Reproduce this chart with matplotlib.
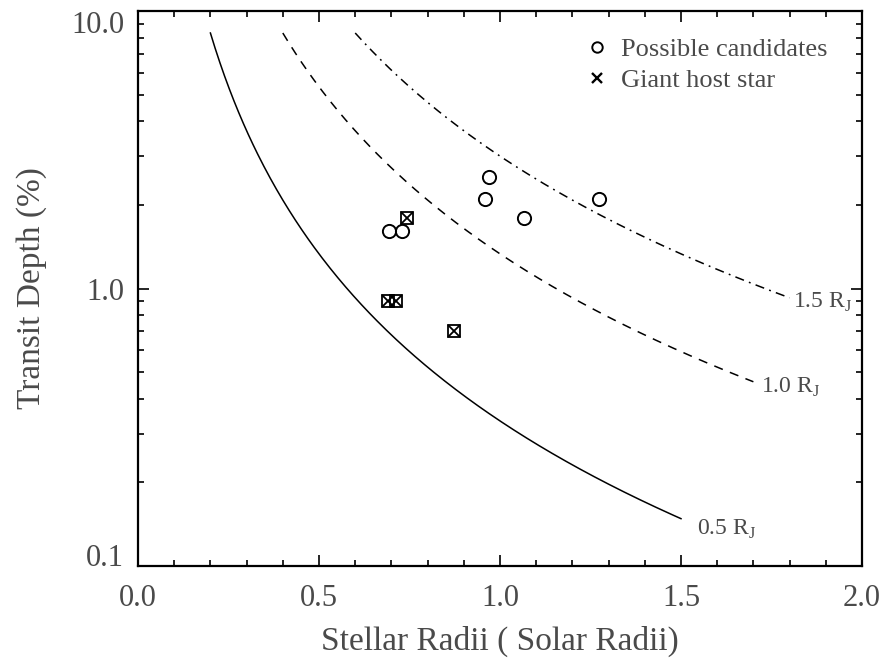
import numpy as np
import matplotlib
matplotlib.use("Agg")
import matplotlib.pyplot as plt
from matplotlib.ticker import FixedLocator, NullFormatter

# transit depth (%) = DEPTH_SCALE * (Rp / R_J)^2 / (R_star / R_sun)^2
DEPTH_SCALE = 1.333
planet_radii = [0.5, 1.0, 1.5]             # in R_J
curve_start = [0.2, 0.4, 0.6]               # stellar radius range of each curve
curve_end = [1.5, 1.7, 1.8]
curve_styles = ['-', (0, (6, 5)), (0, (6, 3.5, 1.2, 3.5))]
curve_labels = ['0.5 R$_\\mathregular{J}$', '1.0 R$_\\mathregular{J}$', '1.5 R$_\\mathregular{J}$']
label_x = [1.545, 1.72, 1.81]
label_y = [0.135, 0.44, 0.89]

# candidates
cand_radius = [0.970, 0.959, 1.067, 1.273, 0.694, 0.728]
cand_depth = [2.52, 2.10, 1.80, 2.10, 1.61, 1.61]

giant_radius = [0.742, 0.691, 0.713, 0.874]
giant_depth = [1.80, 0.904, 0.904, 0.703]

TEXT = '#4a4a4a'
plt.rcParams['font.family'] = ['Liberation Serif', 'DejaVu Serif']
plt.rcParams['mathtext.fontset'] = 'custom'
plt.rcParams['mathtext.rm'] = 'Liberation Serif'

fig = plt.figure(figsize=(8.87, 6.63), dpi=100)
ax = fig.add_axes([0.1556, 0.1463, 0.8162, 0.8371])

for rp, r0, r1, ls, lab, lx, ly in zip(planet_radii, curve_start, curve_end,
                                       curve_styles, curve_labels, label_x, label_y):
    r = np.linspace(r0, r1, 300)
    depth = DEPTH_SCALE * rp**2 / r**2
    ax.plot(r, depth, color='black', lw=1.1, linestyle=ls)
    ax.text(lx, ly, lab, fontsize=17, color=TEXT, va='center', ha='left')

ax.plot(cand_radius, cand_depth, linestyle='none', marker='o', ms=9.5,
        mfc='none', mec='black', mew=1.4)
ax.plot(giant_radius, giant_depth, linestyle='none', marker='s', ms=8,
        mfc='none', mec='black', mew=1.3)
ax.plot(giant_radius, giant_depth, linestyle='none', marker='x', ms=8,
        color='black', mew=1.3)

# legend in the upper right corner
h1, = ax.plot([], [], linestyle='none', marker='o', ms=7.5, mfc='none',
              mec='black', mew=1.4)
h2, = ax.plot([], [], linestyle='none', marker='x', ms=7, color='black', mew=1.7)
leg = ax.legend([h1, h2], ['Possible candidates', 'Giant host star'],
                loc='upper right', frameon=False, fontsize=19,
                handlelength=0.8, handletextpad=0.5, labelspacing=0.3,
                bbox_to_anchor=(0.985, 0.995))
for t in leg.get_texts():
    t.set_color(TEXT)

ax.set_yscale('log')
ax.set_xlim(0.0, 2.0)
ax.set_ylim(0.1, 10.0)
ax.set_xticks([0.0, 0.5, 1.0, 1.5, 2.0])
ax.set_xticklabels(['0.0', '0.5', '1.0', '1.5', '2.0'])
ax.xaxis.set_minor_locator(FixedLocator(np.arange(0.1, 2.0, 0.1)))
ax.set_yticks([0.1, 1.0, 10.0])
ax.set_yticklabels(['0.1', '1.0', '10.0'])
minor_y = [m * d for d in (0.1, 1.0) for m in range(2, 10)]
ax.yaxis.set_minor_locator(FixedLocator(minor_y))
ax.yaxis.set_minor_formatter(NullFormatter())

ax.tick_params(which='both', direction='in', top=True, right=True,
               width=1.2, colors='black', labelcolor=TEXT, labelsize=22)
ax.tick_params(which='major', length=8)
ax.tick_params(axis='x', which='major', pad=13)
ax.tick_params(axis='y', which='major', pad=10)
ax.tick_params(which='minor', length=4)
# end labels sit inside the axis range, like the original
ylabs = ax.get_yticklabels()
ylabs[0].set_va('baseline')
ylabs[-1].set_va('top')
for s in ax.spines.values():
    s.set_linewidth(1.6)

ax.set_xlabel('Stellar Radii ( Solar Radii)', fontsize=24, color=TEXT, labelpad=9)
ax.set_ylabel('Transit Depth (%)', fontsize=24, color=TEXT, labelpad=17)

fig.savefig('out.png', dpi=100)
